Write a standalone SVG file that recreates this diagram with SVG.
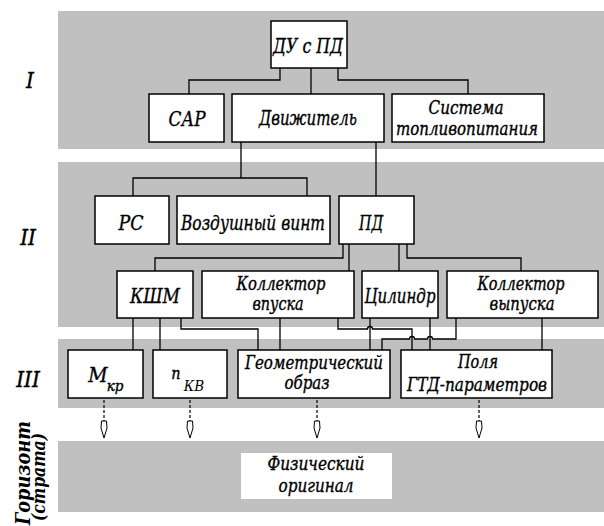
<svg xmlns="http://www.w3.org/2000/svg" width="604" height="526" viewBox="0 0 604 526">
<defs>
<style>
.band{fill:#c0c0c0;}
.box{fill:#fff;stroke:#000;stroke-width:1.5;}
.t{font-family:'DejaVu Serif Condensed','DejaVu Serif',serif;font-style:italic;font-weight:normal;font-size:21px;fill:#000;stroke:#000;stroke-width:0.35;text-anchor:middle;}
.t2{font-size:18px;}
.lbl{font-family:'DejaVu Serif Condensed','DejaVu Serif',serif;font-style:italic;font-weight:normal;font-size:22px;fill:#000;stroke:#000;stroke-width:0.4;text-anchor:middle;}
.ln{fill:none;stroke:#000;stroke-width:1.3;}
.dash{fill:none;stroke:#000;stroke-width:1.2;stroke-dasharray:3,2;}
.head{fill:#fff;stroke:#000;stroke-width:1;}
</style>
</defs>
<rect width="604" height="526" fill="#fff"/>
<g id="bands">
<rect class="band" x="58" y="11" width="546" height="138"/>
<rect class="band" x="58" y="162" width="546" height="165"/>
<rect class="band" x="58" y="339" width="546" height="69"/>
<rect class="band" x="58" y="441" width="546" height="71"/>
</g>
<g id="labels">
<text class="lbl" x="30" y="88">I</text>
<text class="lbl" x="28" y="245">II</text>
<text class="lbl" x="28" y="387">III</text>
<text class="lbl" style="font-size:21px;font-weight:bold;stroke-width:0" transform="translate(30,473) rotate(-90)" textLength="104" lengthAdjust="spacingAndGlyphs">Горизонт</text>
<text class="lbl" style="font-size:18px;font-weight:bold;stroke-width:0" transform="translate(45,477) rotate(-90)" textLength="88" lengthAdjust="spacingAndGlyphs">(страта)</text>
</g>
<g id="connectors">
<path class="ln" d="M280,68 V80 H189 V94"/>
<path class="ln" d="M311,68 V94"/>
<path class="ln" d="M338,68 V80 H468 V94"/>
<path class="ln" d="M241,142 V178"/>
<path class="ln" d="M133,196 V178 H307 V196"/>
<path class="ln" d="M376,142 V196"/>
<path class="ln" d="M343,244 V258 H155 V271"/>
<path class="ln" d="M349,244 V271"/>
<path class="ln" d="M399,244 V271"/>
<path class="ln" d="M407,244 V258 H521 V271"/>
<path class="ln" d="M133,318 V350"/>
<path class="ln" d="M160,318 V350"/>
<path class="ln" d="M181,318 V329 H258 V350"/>
<path class="ln" d="M280,318 V350"/>
<path class="ln" d="M338,318 V329 H367.5 A2.5,2.5 0 0 1 372.5,329 H412 V350"/>
<path class="ln" d="M370,318 V350"/>
<path class="ln" d="M430,318 V350"/>
<path class="ln" d="M456,318 V339 H432.5 A2.5,2.5 0 0 0 427.5,339 H414.5 A2.5,2.5 0 0 0 409.5,339 H382 V350"/>
<path class="ln" d="M542,318 V350"/>
<g id="arrows">
<path class="dash" d="M104,400 V436"/>
<polygon class="head" points="101.5,421 106.5,421 107,428 104,438 101,428"/>
<path class="dash" d="M190,400 V436"/>
<polygon class="head" points="187.5,421 192.5,421 193,428 190,438 187,428"/>
<path class="dash" d="M317,400 V436"/>
<polygon class="head" points="314.5,421 319.5,421 320,428 317,438 314,428"/>
<path class="dash" d="M479,400 V436"/>
<polygon class="head" points="476.5,421 481.5,421 482,428 479,438 476,428"/>
</g>
</g>
<g id="n-du">
<rect class="box" x="271" y="21" width="76" height="47"/>
<text class="t" x="308" y="53" textLength="70" lengthAdjust="spacingAndGlyphs">ДУ с ПД</text>
</g>
<g id="n-sar">
<rect class="box" x="149" y="94" width="75" height="48"/>
<text class="t" x="187" y="126" textLength="37" lengthAdjust="spacingAndGlyphs">САР</text>
</g>
<g id="n-dvizh">
<rect class="box" x="232" y="94" width="152" height="48"/>
<text class="t" x="308" y="125" textLength="98" lengthAdjust="spacingAndGlyphs">Движитель</text>
</g>
<g id="n-sist">
<rect class="box" x="392" y="94" width="152" height="48"/>
<text class="t t2" x="466" y="114" textLength="75" lengthAdjust="spacingAndGlyphs">Система</text>
<text class="t t2" x="467" y="135" textLength="142" lengthAdjust="spacingAndGlyphs">топливопитания</text>
</g>
<g id="n-rs">
<rect class="box" x="95" y="196" width="74" height="48"/>
<text class="t" x="131" y="230" textLength="25" lengthAdjust="spacingAndGlyphs">РС</text>
</g>
<g id="n-vint">
<rect class="box" x="177" y="196" width="153" height="48"/>
<text class="t" x="253" y="230" textLength="144" lengthAdjust="spacingAndGlyphs">Воздушный  винт</text>
</g>
<g id="n-pd">
<rect class="box" x="339" y="196" width="75" height="48"/>
<text class="t" x="371" y="230" textLength="24" lengthAdjust="spacingAndGlyphs">ПД</text>
</g>
<g id="n-kshm">
<rect class="box" x="117" y="271" width="76" height="47"/>
<text class="t" x="155" y="303" textLength="50" lengthAdjust="spacingAndGlyphs">КШМ</text>
</g>
<g id="n-kvp">
<rect class="box" x="202" y="271" width="152" height="47"/>
<text class="t t2" x="281" y="290" textLength="89" lengthAdjust="spacingAndGlyphs">Коллектор</text>
<text class="t t2" x="278" y="310" textLength="51" lengthAdjust="spacingAndGlyphs">впуска</text>
</g>
<g id="n-cil">
<rect class="box" x="362" y="271" width="76" height="47"/>
<text class="t" x="400" y="303" textLength="71" lengthAdjust="spacingAndGlyphs">Цилиндр</text>
</g>
<g id="n-kvyp">
<rect class="box" x="447" y="271" width="151" height="47"/>
<text class="t t2" x="521" y="290" textLength="87" lengthAdjust="spacingAndGlyphs">Коллектор</text>
<text class="t t2" x="522" y="310" textLength="65" lengthAdjust="spacingAndGlyphs">выпуска</text>
</g>
<g id="n-mkr">
<rect class="box" x="68" y="350" width="75" height="48"/>
<text class="t" x="98" y="382">M</text>
<text class="t" style="font-size:15px" x="115" y="391">кр</text>
</g>
<g id="n-nkv">
<rect class="box" x="153" y="350" width="74" height="48"/>
<text class="t" style="font-size:16px" x="176" y="379">n</text>
<text class="t" style="font-size:15px;stroke-width:0" x="194" y="391">КВ</text>
</g>
<g id="n-geom">
<rect class="box" x="238" y="350" width="152" height="48"/>
<text class="t t2" x="314" y="369" textLength="138" lengthAdjust="spacingAndGlyphs">Геометрический</text>
<text class="t t2" x="307" y="389" textLength="45" lengthAdjust="spacingAndGlyphs">образ</text>
</g>
<g id="n-polya">
<rect class="box" x="401" y="350" width="151" height="48"/>
<text class="t t2" x="478" y="368" textLength="40" lengthAdjust="spacingAndGlyphs">Поля</text>
<text class="t t2" x="477" y="391" textLength="140" lengthAdjust="spacingAndGlyphs">ГТД-параметров</text>
</g>
<g id="n-fiz">
<rect x="241" y="453" width="151" height="46" fill="#fff"/>
<text class="t t2" x="316" y="470" textLength="97" lengthAdjust="spacingAndGlyphs">Физический</text>
<text class="t t2" x="316" y="492" textLength="75" lengthAdjust="spacingAndGlyphs">оригинал</text>
</g>
</svg>
